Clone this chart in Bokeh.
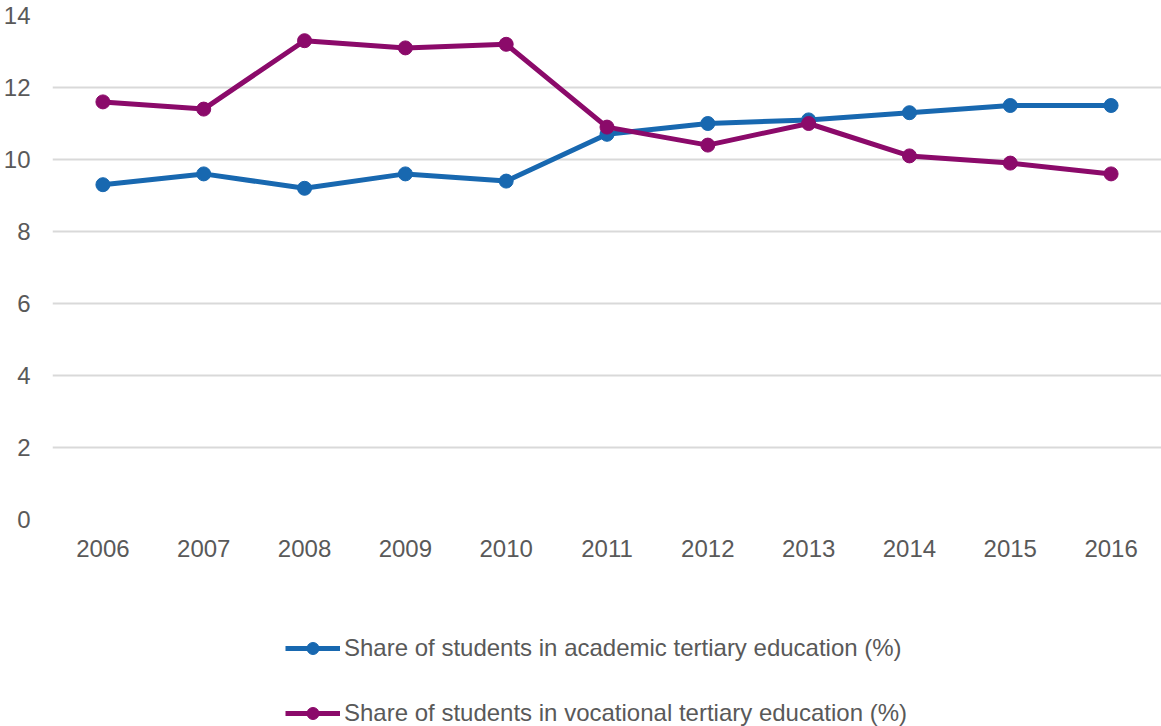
from bokeh.plotting import figure
from bokeh.layouts import column
from bokeh.models import Legend, LegendItem, FixedTicker, ColumnDataSource
from bokeh.embed import file_html
from bokeh.resources import INLINE

years = ["2006", "2007", "2008", "2009", "2010", "2011", "2012", "2013", "2014", "2015", "2016"]
academic = [9.3, 9.6, 9.2, 9.6, 9.4, 10.7, 11.0, 11.1, 11.3, 11.5, 11.5]
vocational = [11.6, 11.4, 13.3, 13.1, 13.2, 10.9, 10.4, 11.0, 10.1, 9.9, 9.6]
y_ticks = [0, 2, 4, 6, 8, 10, 12, 14]
label_academic = "Share of students in academic tertiary education (%)"
label_vocational = "Share of students in vocational tertiary education (%)"

BLUE = "#1868b0"
PURPLE = "#8b0a6a"
TXT = "#595959"
FONT = "Liberation Sans"

p = figure(x_range=years, y_range=(0, 14), width=1161, height=560,
           output_backend="svg", toolbar_location=None,
           min_border_left=52, min_border_right=0, min_border_top=15, min_border_bottom=41)
p.outline_line_color = None
p.background_fill_color = "white"
p.border_fill_color = "white"

src = ColumnDataSource(dict(x=years, a=academic, v=vocational))
p.line("x", "a", source=src, line_color=BLUE, line_width=5)
p.scatter("x", "a", source=src, size=14, fill_color=BLUE, line_color=BLUE)
p.line("x", "v", source=src, line_color=PURPLE, line_width=5)
p.scatter("x", "v", source=src, size=14, fill_color=PURPLE, line_color=PURPLE)

p.yaxis.ticker = FixedTicker(ticks=y_ticks)
p.xgrid.grid_line_color = None
p.ygrid.grid_line_color = "#d9d9d9"
p.ygrid.grid_line_width = 2
for ax in (p.xaxis[0], p.yaxis[0]):
    ax.axis_line_color = None
    ax.major_tick_line_color = None
    ax.minor_tick_line_color = None
    ax.major_label_text_font = FONT
    ax.major_label_text_font_size = "24px"
    ax.major_label_text_color = TXT
p.yaxis.major_label_standoff = 16
p.xaxis.major_label_standoff = 14

# legend panel (the series renderers here sit outside the visible y range)
q = figure(width=1161, height=166, output_backend="svg", toolbar_location=None,
           x_axis_location=None, y_axis_location=None,
           min_border_left=0, min_border_right=0, min_border_top=0, min_border_bottom=0,
           x_range=years, y_range=(-100, -99))
q.outline_line_color = None
q.grid.visible = False
la = q.line("x", "a", source=src, line_color=BLUE, line_width=5)
sa = q.scatter("x", "a", source=src, size=14, fill_color=BLUE, line_color=BLUE)
lv = q.line("x", "v", source=src, line_color=PURPLE, line_width=5)
sv = q.scatter("x", "v", source=src, size=14, fill_color=PURPLE, line_color=PURPLE)

legend = Legend(items=[LegendItem(label=label_academic, renderers=[la, sa]),
                       LegendItem(label=label_vocational, renderers=[lv, sv])],
                orientation="vertical", location=(233, -2),
                glyph_width=55, glyph_height=30, label_height=30,
                label_standoff=4, spacing=35, padding=0, margin=0,
                label_text_font=FONT, label_text_font_size="24px",
                label_text_color=TXT, border_line_alpha=0,
                background_fill_alpha=0)
q.add_layout(legend, "center")

layout = column(p, q, spacing=0)
open("out.html", "w").write(file_html(layout, INLINE))
